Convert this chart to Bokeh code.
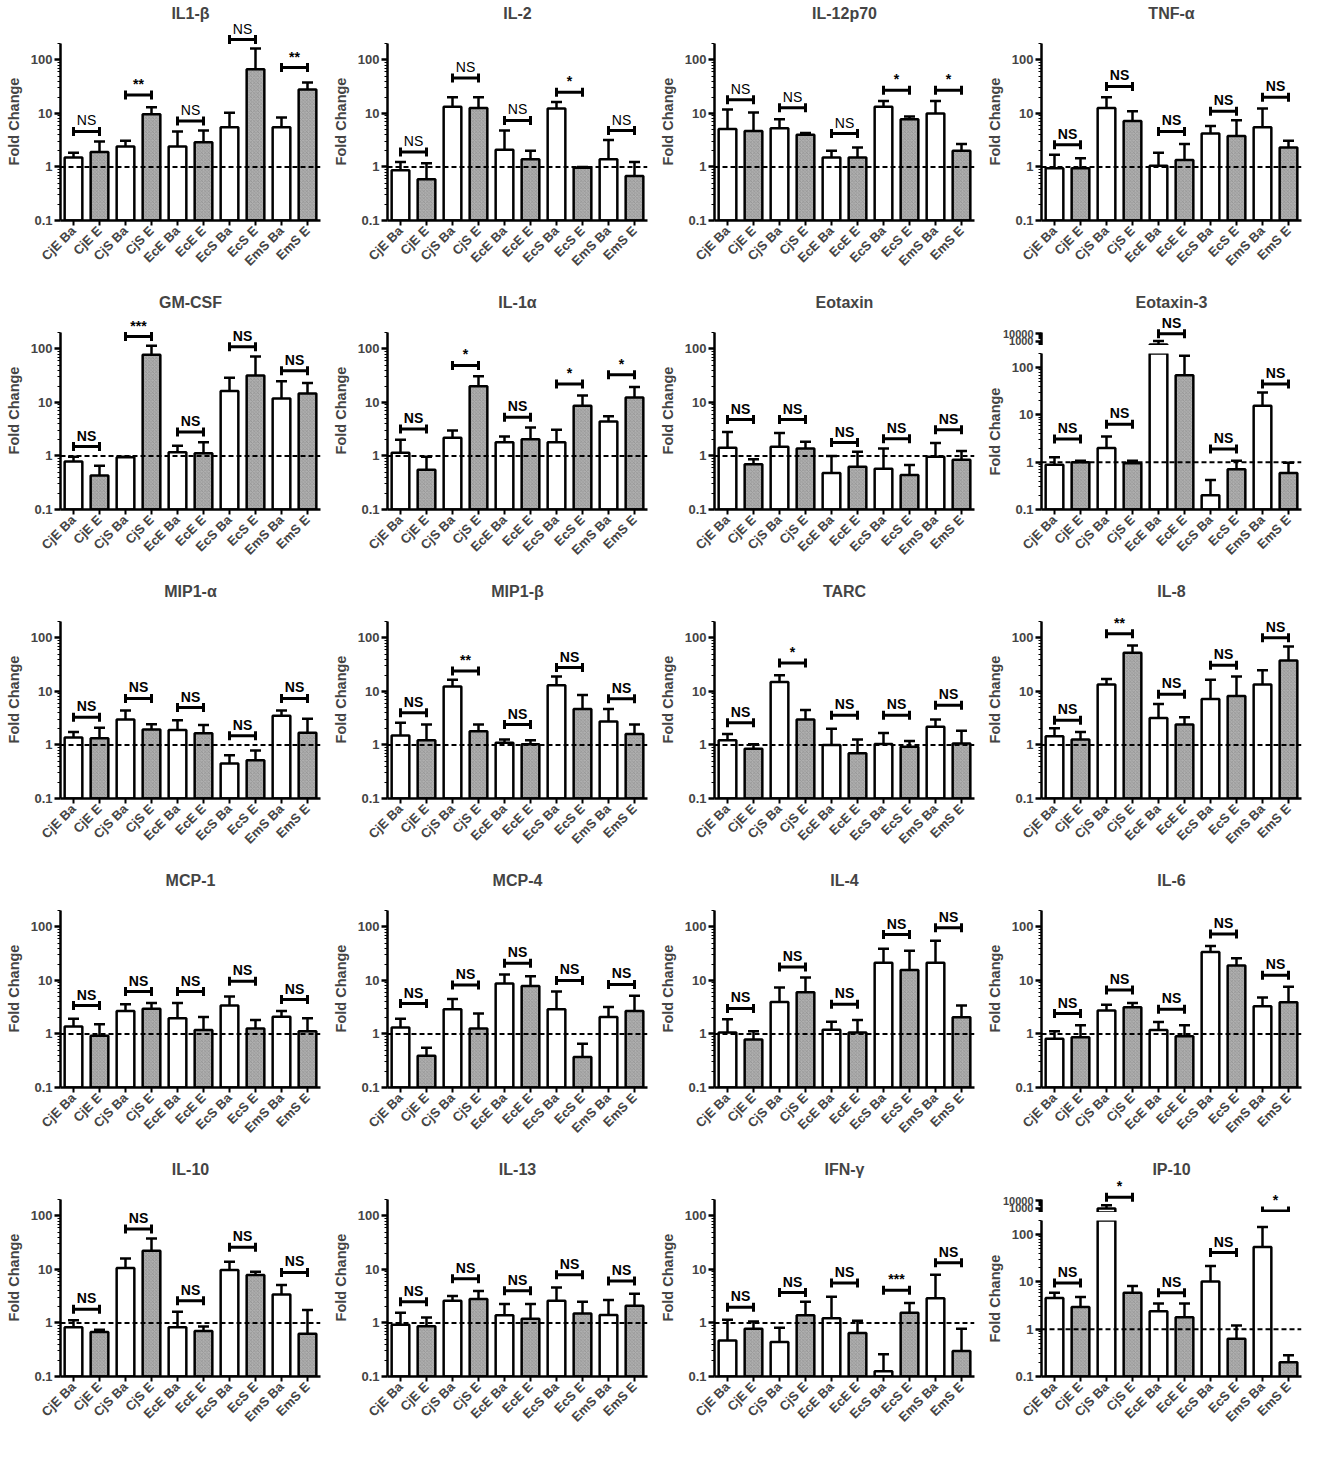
import math
from bokeh.plotting import figure
from bokeh.models import (Range1d, FixedTicker, NumeralTickFormatter, Span,
                          ColumnDataSource, CustomJSTickFormatter)
from bokeh.layouts import row, column
from bokeh.embed import file_html
from bokeh.resources import INLINE
from bokeh.core.properties import value

# ---------------- data ----------------
CATEGORIES = ["CjE Ba", "CjE E", "CjS Ba", "CjS E", "EcE Ba", "EcE E",
              "EcS Ba", "EcS E", "EmS Ba", "EmS E"]

IL1B_MEAN = [1.5, 1.9, 2.4, 9.7, 2.4, 2.9, 5.5, 67, 5.5, 28]
IL1B_ERR = [1.85, 3.0, 3.1, 13, 4.6, 4.8, 10.3, 163, 8.4, 38]
IL1B_BRACKET = [4.6, 22, 7.2, 240, 72]
IL1B_SIG = ["NS", "**", "NS", "NS", "**"]

IL2_MEAN = [0.87, 0.59, 13.3, 12.7, 2.1, 1.4, 12.4, 0.97, 1.4, 0.68]
IL2_ERR = [1.24, 1.17, 20, 20, 4.8, 2.0, 16.4, 1.0, 3.2, 1.24]
IL2_BRACKET = [1.9, 46, 7.4, 25, 4.8]
IL2_SIG = ["NS", "NS", "NS", "*", "NS"]

IL12_MEAN = [5.1, 4.7, 5.3, 4.0, 1.5, 1.5, 13.4, 7.8, 10, 2.0]
IL12_ERR = [11.8, 10.4, 7.8, 4.3, 2.0, 2.3, 17, 8.8, 17, 2.7]
IL12_BRACKET = [18, 12.8, 4.2, 27, 27]
IL12_SIG = ["NS", "NS", "NS", "*", "*"]

TNFA_MEAN = [0.95, 0.95, 12.7, 7.2, 1.05, 1.35, 4.2, 3.8, 5.5, 2.3]
TNFA_ERR = [1.7, 1.45, 20, 11, 1.85, 2.7, 5.8, 7.5, 12.4, 3.1]
TNFA_BRACKET = [2.6, 32, 4.6, 11, 20]
TNFA_SIG = ["NS", "NS", "NS", "NS", "NS"]

GMCSF_MEAN = [0.79, 0.43, 0.95, 78, 1.17, 1.12, 16.4, 32, 11.8, 14.7]
GMCSF_ERR = [0.97, 0.66, 0.97, 115, 1.55, 1.8, 29, 72, 25, 23]
GMCSF_BRACKET = [1.5, 170, 2.8, 110, 39]
GMCSF_SIG = ["NS", "***", "NS", "NS", "NS"]

IL1A_MEAN = [1.15, 0.55, 2.2, 20, 1.8, 2.05, 1.8, 8.7, 4.4, 12.4]
IL1A_ERR = [2.0, 0.97, 3.0, 31, 2.3, 3.4, 3.1, 13.5, 5.5, 19.4]
IL1A_BRACKET = [3.2, 49, 5.3, 22, 33]
IL1A_SIG = ["NS", "*", "NS", "*", "*"]

EOTAXIN_MEAN = [1.42, 0.7, 1.48, 1.38, 0.48, 0.63, 0.58, 0.44, 0.97, 0.85]
EOTAXIN_ERR = [2.8, 0.87, 2.7, 1.85, 1.0, 1.2, 1.38, 0.68, 1.75, 1.24]
EOTAXIN_BRACKET = [4.8, 4.8, 1.78, 2.1, 3.1]
EOTAXIN_SIG = ["NS", "NS", "NS", "NS", "NS"]

EOTAXIN3_MEAN = [0.88, 1.0, 2.0, 0.95, 350, 69, 0.2, 0.71, 15.6, 0.59]
EOTAXIN3_ERR = [1.27, 1.08, 3.5, 1.08, 1000, 180, 0.42, 1.07, 30, 0.98]
EOTAXIN3_BRACKET = [3.1, 6.4, 10000, 1.9, 45]
EOTAXIN3_SIG = ["NS", "NS", "NS", "NS", "NS"]

MIP1A_MEAN = [1.38, 1.34, 3.0, 1.94, 1.9, 1.66, 0.45, 0.52, 3.5, 1.7]
MIP1A_ERR = [1.75, 2.1, 4.4, 2.45, 2.9, 2.35, 0.64, 0.79, 4.4, 3.1]
MIP1A_BRACKET = [3.3, 7.4, 5.0, 1.48, 7.4]
MIP1A_SIG = ["NS", "NS", "NS", "NS", "NS"]

MIP1B_MEAN = [1.5, 1.23, 12.4, 1.8, 1.1, 1.03, 13, 4.7, 2.75, 1.6]
MIP1B_ERR = [2.6, 2.4, 16.5, 2.4, 1.27, 1.23, 19, 8.6, 4.7, 2.4]
MIP1B_BRACKET = [4.0, 24, 2.4, 28, 7.3]
MIP1B_SIG = ["NS", "**", "NS", "NS", "NS"]

TARC_MEAN = [1.23, 0.85, 15, 3.0, 1.0, 0.7, 1.04, 0.93, 2.2, 1.07]
TARC_ERR = [1.6, 1.03, 20, 4.5, 2.0, 1.27, 1.67, 1.18, 3.0, 1.84]
TARC_BRACKET = [2.6, 34, 3.6, 3.6, 5.5]
TARC_SIG = ["NS", "*", "NS", "NS", "NS"]

IL8_MEAN = [1.45, 1.27, 13.5, 53, 3.2, 2.4, 7.2, 8.2, 13.5, 38]
IL8_ERR = [2.05, 1.74, 17, 72, 5.8, 3.3, 16.5, 19, 25, 69]
IL8_BRACKET = [2.9, 120, 8.9, 31, 101]
IL8_SIG = ["NS", "**", "NS", "NS", "NS"]

MCP1_MEAN = [1.38, 0.93, 2.7, 2.95, 1.96, 1.18, 3.4, 1.27, 2.1, 1.12]
MCP1_ERR = [1.93, 1.52, 3.6, 3.8, 3.8, 2.07, 5.0, 1.83, 2.7, 1.96]
MCP1_BRACKET = [3.4, 6.2, 6.2, 9.7, 4.4]
MCP1_SIG = ["NS", "NS", "NS", "NS", "NS"]

MCP4_MEAN = [1.32, 0.39, 2.9, 1.27, 8.8, 7.9, 2.9, 0.37, 2.07, 2.7]
MCP4_ERR = [1.93, 0.55, 4.5, 2.4, 12.9, 12, 6.2, 0.66, 3.2, 5.2]
MCP4_BRACKET = [3.7, 8.2, 21, 10, 8.4]
MCP4_SIG = ["NS", "NS", "NS", "NS", "NS"]

IL4_MEAN = [1.07, 0.79, 3.96, 6.0, 1.2, 1.07, 21.4, 15.7, 21.4, 2.05]
IL4_ERR = [1.88, 1.12, 7.4, 11.3, 1.7, 1.83, 39, 36, 55, 3.4]
IL4_BRACKET = [3.0, 17.8, 3.6, 72, 96]
IL4_SIG = ["NS", "NS", "NS", "NS", "NS"]

IL6_MEAN = [0.81, 0.87, 2.75, 3.15, 1.18, 0.91, 34, 19, 3.3, 3.9]
IL6_ERR = [1.12, 1.46, 3.5, 3.8, 1.68, 1.46, 44, 26, 4.8, 7.6]
IL6_BRACKET = [2.4, 6.6, 2.9, 74, 12.5]
IL6_SIG = ["NS", "NS", "NS", "NS", "NS"]

IL10_MEAN = [0.83, 0.68, 10.6, 22.4, 0.83, 0.71, 9.8, 7.9, 3.4, 0.63]
IL10_ERR = [1.13, 0.75, 16, 38, 1.62, 0.86, 13.9, 9.1, 5.1, 1.74]
IL10_BRACKET = [1.8, 57, 2.6, 26, 8.8]
IL10_SIG = ["NS", "NS", "NS", "NS", "NS"]

IL13_MEAN = [0.93, 0.87, 2.6, 2.8, 1.4, 1.2, 2.6, 1.5, 1.41, 2.1]
IL13_ERR = [1.56, 1.27, 3.2, 3.95, 2.27, 2.27, 4.6, 2.5, 2.7, 3.5]
IL13_BRACKET = [2.5, 6.7, 4.0, 8.0, 6.1]
IL13_SIG = ["NS", "NS", "NS", "NS", "NS"]

IFNG_MEAN = [0.47, 0.78, 0.44, 1.4, 1.23, 0.65, 0.125, 1.56, 2.9, 0.3]
IFNG_ERR = [1.15, 1.06, 0.81, 2.5, 3.1, 1.1, 0.26, 2.36, 8.0, 0.78]
IFNG_BRACKET = [1.97, 3.7, 5.6, 4.1, 13.4]
IFNG_SIG = ["NS", "NS", "NS", "***", "NS"]

IP10_MEAN = [4.6, 2.96, 900, 5.9, 2.4, 1.8, 10.3, 0.63, 55, 0.2]
IP10_ERR = [5.9, 4.8, 2500, 8.2, 3.5, 3.5, 21.8, 1.2, 145, 0.28]
IP10_BRACKET = [9.5, 30000, 5.9, 42, 400]
IP10_SIG = ["NS", "*", "NS", "NS", "*"]

PANELS = [
    ("IL1-β", IL1B_MEAN, IL1B_ERR, IL1B_BRACKET, IL1B_SIG),
    ("IL-2", IL2_MEAN, IL2_ERR, IL2_BRACKET, IL2_SIG),
    ("IL-12p70", IL12_MEAN, IL12_ERR, IL12_BRACKET, IL12_SIG),
    ("TNF-α", TNFA_MEAN, TNFA_ERR, TNFA_BRACKET, TNFA_SIG),
    ("GM-CSF", GMCSF_MEAN, GMCSF_ERR, GMCSF_BRACKET, GMCSF_SIG),
    ("IL-1α", IL1A_MEAN, IL1A_ERR, IL1A_BRACKET, IL1A_SIG),
    ("Eotaxin", EOTAXIN_MEAN, EOTAXIN_ERR, EOTAXIN_BRACKET, EOTAXIN_SIG),
    ("Eotaxin-3", EOTAXIN3_MEAN, EOTAXIN3_ERR, EOTAXIN3_BRACKET, EOTAXIN3_SIG),
    ("MIP1-α", MIP1A_MEAN, MIP1A_ERR, MIP1A_BRACKET, MIP1A_SIG),
    ("MIP1-β", MIP1B_MEAN, MIP1B_ERR, MIP1B_BRACKET, MIP1B_SIG),
    ("TARC", TARC_MEAN, TARC_ERR, TARC_BRACKET, TARC_SIG),
    ("IL-8", IL8_MEAN, IL8_ERR, IL8_BRACKET, IL8_SIG),
    ("MCP-1", MCP1_MEAN, MCP1_ERR, MCP1_BRACKET, MCP1_SIG),
    ("MCP-4", MCP4_MEAN, MCP4_ERR, MCP4_BRACKET, MCP4_SIG),
    ("IL-4", IL4_MEAN, IL4_ERR, IL4_BRACKET, IL4_SIG),
    ("IL-6", IL6_MEAN, IL6_ERR, IL6_BRACKET, IL6_SIG),
    ("IL-10", IL10_MEAN, IL10_ERR, IL10_BRACKET, IL10_SIG),
    ("IL-13", IL13_MEAN, IL13_ERR, IL13_BRACKET, IL13_SIG),
    ("IFN-γ", IFNG_MEAN, IFNG_ERR, IFNG_BRACKET, IFNG_SIG),
    ("IP-10", IP10_MEAN, IP10_ERR, IP10_BRACKET, IP10_SIG),
]
BROKEN_PANELS = {"Eotaxin-3", "IP-10"}
LIGHT_NS_PANELS = {"IL1-β", "IL-2", "IL-12p70"}

Y_TICKS = [0.1, 1, 10, 100]
TOP_TICKS = [1000, 10000]

# ---------------- style ----------------
FONT = "Liberation Sans"
FRAME_W = 260
FRAME_H = 198
MINI_H = 34
GAP = 8
BL, BR, BT, BB = 60, 7, 22, 69
Y_LO, Y_HI, AXIS_TOP = 0.1, 500, 205
BREAK_AT = 200
MINI_LO = 250
MINI_HI = MINI_LO * 10 ** (MINI_H / 7.3)
GRAY = "#b0b0b0"

x_centers = [i + 0.5 for i in range(len(CATEGORIES))]
minor_main = [m * 10 ** e for e in range(-1, 3) for m in range(2, 10)
              if m * 10 ** e <= AXIS_TOP]
minor_top = [m * 10 ** e for e in range(2, 4) for m in range(2, 10)
             if m * 10 ** e >= MINI_LO]


def make_fig(frame_h, y_lo, y_hi, title=None, top=BT, bottom=BB, show_x=True):
    kw = dict(frame_width=FRAME_W, frame_height=frame_h,
              x_range=Range1d(0, len(CATEGORIES)), y_range=Range1d(y_lo, y_hi),
              y_axis_type="log", output_backend="svg", toolbar_location=None,
              min_border_left=BL, min_border_right=BR, min_border_top=top,
              min_border_bottom=bottom,
              x_axis_location="below" if show_x else None)
    if title is not None:
        kw["title"] = title
    p = figure(**kw)
    p.outline_line_color = None
    p.xgrid.visible = False
    p.ygrid.visible = False
    if title is not None:
        p.title.align = "center"
        p.title.text_font = FONT
        p.title.text_font_size = "16px"
        p.title.text_font_style = "bold"
        p.title.standoff = 2
    if show_x:
        xa = p.xaxis[0]
        xa.ticker = FixedTicker(ticks=x_centers)
        xa.formatter = CustomJSTickFormatter(args=dict(labels=CATEGORIES),
                                             code="return labels[Math.floor(tick)] || '';")
        xa.major_label_orientation = math.pi / 4
        xa.major_label_text_font = FONT
        xa.major_label_text_font_size = "13px"
        xa.major_label_text_font_style = "bold"
        xa.major_label_standoff = 3
        xa.axis_line_width = 2.5
        xa.major_tick_line_width = 2
        xa.major_tick_in = 0
        xa.major_tick_out = 5
        xa.minor_tick_line_color = None
    ya = p.yaxis[0]
    ya.axis_line_width = 2.5
    ya.major_tick_line_width = 2.5
    ya.major_tick_in = 0
    ya.major_tick_out = 6
    ya.minor_tick_in = 0
    ya.minor_tick_out = 3
    ya.minor_tick_line_width = 1.2
    ya.major_label_text_font = FONT
    ya.major_label_text_font_style = "bold"
    ya.major_label_standoff = 2
    return p


def add_marks(p, means, errs, brackets, sigs, light_ns, bar_keep, br_keep):
    idx = [i for i in range(len(means)) if bar_keep(means[i])]
    for parity, fill in ((0, "white"), (1, GRAY)):
        sel = [i for i in idx if i % 2 == parity]
        if not sel:
            continue
        src = ColumnDataSource(dict(x=[x_centers[i] for i in sel],
                                    top=[means[i] for i in sel],
                                    err=[errs[i] for i in sel]))
        kw = dict(x="x", top="top", bottom=0.1, width=0.68, source=src,
                  fill_color=fill, line_color="black", line_width=2.5)
        if parity == 1:
            kw.update(hatch_pattern="x", hatch_color="#888888",
                      hatch_scale=3.5, hatch_weight=0.6)
        p.vbar(**kw)
        p.segment(x0="x", y0="top", x1="x", y1="err", source=src,
                  line_color="black", line_width=2.5)
        p.scatter(x="x", y="err", source=src, marker="dash", size=11,
                  line_color="black", line_width=2.5)
    bsel = [k for k in range(len(brackets)) if br_keep(brackets[k])]
    if not bsel:
        return
    bsrc = ColumnDataSource(dict(
        x0=[x_centers[2 * k] for k in bsel],
        x1=[x_centers[2 * k + 1] for k in bsel],
        xm=[(x_centers[2 * k] + x_centers[2 * k + 1]) / 2 for k in bsel],
        y=[brackets[k] for k in bsel],
        t=[sigs[k] for k in bsel],
        st=["normal" if (light_ns and sigs[k] == "NS") else "bold" for k in bsel],
    ))
    p.segment(x0="x0", y0="y", x1="x1", y1="y", source=bsrc,
              line_color="black", line_width=3)
    p.scatter(x="x0", y="y", source=bsrc, marker="dash", angle=math.pi / 2,
              size=9, line_color="black", line_width=3)
    p.scatter(x="x1", y="y", source=bsrc, marker="dash", angle=math.pi / 2,
              size=9, line_color="black", line_width=3)
    p.text(x="xm", y="y", text="t", source=bsrc, text_align="center",
           text_baseline="bottom", y_offset=-3, text_font=value(FONT),
           text_font_size="14px", text_font_style="st", text_color="black")


def add_one_line(p):
    p.add_layout(Span(location=1, dimension="width", line_color="black",
                      line_dash="5 3", line_width=2))


def style_main_y(ya):
    ya.ticker = FixedTicker(ticks=Y_TICKS, minor_ticks=minor_main)
    ya.formatter = NumeralTickFormatter(format="0.[0]")
    ya.major_label_text_font_size = "13px"
    ya.axis_label = "Fold Change"
    ya.axis_label_text_font = FONT
    ya.axis_label_text_font_size = "14.5px"
    ya.axis_label_text_font_style = "bold"
    ya.axis_label_standoff = 6


def standard_panel(name, means, errs, brackets, sigs):
    p = make_fig(FRAME_H, Y_LO, Y_HI, title=name)
    ya = p.yaxis[0]
    style_main_y(ya)
    ya.bounds = (Y_LO, AXIS_TOP)
    add_marks(p, means, errs, brackets, sigs, name in LIGHT_NS_PANELS,
              lambda v: True, lambda v: True)
    add_one_line(p)
    return p


def broken_panel(name, means, errs, brackets, sigs):
    top = make_fig(MINI_H, MINI_LO, MINI_HI, title=name, bottom=0, show_x=False)
    ta = top.yaxis[0]
    ta.ticker = FixedTicker(ticks=TOP_TICKS, minor_ticks=minor_top)
    ta.formatter = NumeralTickFormatter(format="0")
    ta.bounds = (MINI_LO, 14000)
    ta.major_label_text_font_size = "11px"
    add_marks(top, means, errs, brackets, sigs, False,
              lambda v: v > BREAK_AT, lambda v: v > BREAK_AT)

    main = make_fig(FRAME_H - MINI_H - GAP, Y_LO, BREAK_AT, top=GAP)
    style_main_y(main.yaxis[0])
    add_marks(main, means, errs, brackets, sigs, False,
              lambda v: True, lambda v: v <= BREAK_AT)
    add_one_line(main)
    return column(top, main, spacing=0)


panels = []
for name, means, errs, brackets, sigs in PANELS:
    if name in BROKEN_PANELS:
        panels.append(broken_panel(name, means, errs, brackets, sigs))
    else:
        panels.append(standard_panel(name, means, errs, brackets, sigs))

rows = [row(*panels[r * 4:(r + 1) * 4], spacing=0) for r in range(5)]
layout = column(*rows, spacing=0)

open("out.html", "w").write(file_html(layout, INLINE))
